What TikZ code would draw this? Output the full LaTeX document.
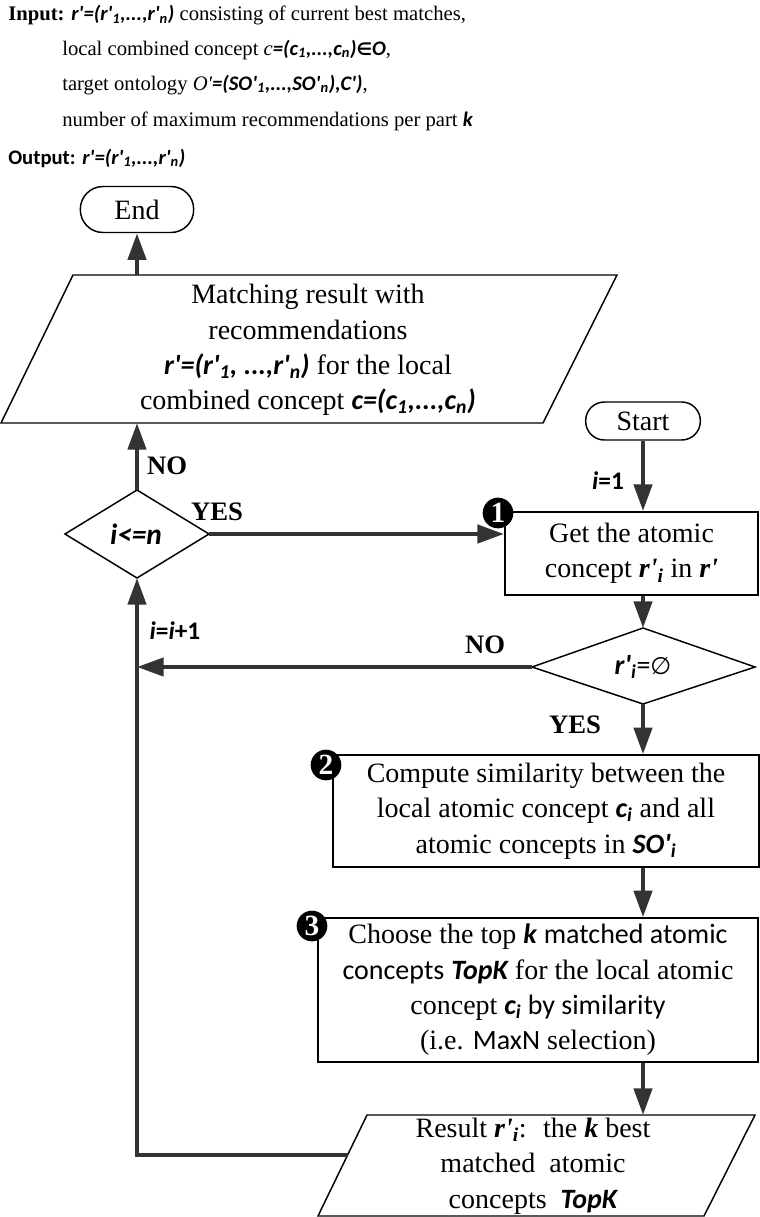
\documentclass[tikz,border=0pt]{standalone}
\usepackage{fontspec}
\setmainfont{Liberation Serif}
\newfontfamily\carl{Carlito}
\newfontfamily\lser{Liberation Serif}
\newfontfamily\dvs{DejaVu Sans}
\usetikzlibrary{arrows.meta}
\definecolor{arrowgray}{HTML}{333333}
\newcommand\bi[1]{{\carl\bfseries\itshape #1}}
\newcommand\tbi[1]{{\lser\bfseries\itshape #1}}
\newcommand\sub[1]{\textsubscript{#1}}
\begin{document}
\begin{tikzpicture}[x=0.75pt,y=-0.75pt,
  shapeline/.style={draw=black, line width=1.1pt},
  boxnode/.style={shapeline, rectangle, inner sep=0pt, align=center, font=\fontsize{21}{26.5}\selectfont},
  term/.style={shapeline, rectangle, inner sep=0pt, font=\fontsize{21}{24}\selectfont},
  txt/.style={font=\fontsize{21}{26.5}\selectfont, align=center, inner sep=0pt},
  head/.style={font=\fontsize{15.5}{20}\selectfont, anchor=base west, inner sep=0pt},
  lbl/.style={font=\fontsize{20}{24}\selectfont\bfseries, inner sep=0pt},
  ilbl/.style={font=\fontsize{19}{22}\selectfont, inner sep=0pt},
  arr/.style={draw=arrowgray, line width=3.3pt, -{Triangle[length=20pt,width=13.5pt]}},
  badge/.style={circle, fill=black, inner sep=0pt, minimum size=23pt, text=white, font=\fontsize{22}{22}\selectfont\bfseries}]
\useasboundingbox (0,0) rectangle (760,1217);

% ---------- header ----------
\node[head] (in1) at (8,21) {\textbf{Input:} \bi{r'=(r'\sub{1},...,r'\sub{n})} consisting of current best matches,};
\node[head] (in2) at (62,55) {local combined concept \textit{c}\bi{=(c\sub{1},...,c\sub{n})}{\dvs\bfseries\fontsize{13}{16}\selectfont ∈}\bi{O},};
\node[head] (in3) at (62,90) {target ontology {\lser\itshape O'}\bi{=(SO'\sub{1},...,SO'\sub{n}),C')},};
\node[head] (in4) at (62,126) {number of maximum recommendations per part \bi{k}};
\node[head] (in5) at (8,164) {{\carl\bfseries Output:} \bi{r'=(r'\sub{1},...,r'\sub{n})}};

% ---------- terminals ----------
\node[term, minimum width=85pt, minimum height=34.5pt, rounded corners=17pt] (end) at (137,209.5) {End};
\node[term, minimum width=86pt, minimum height=28.5pt, rounded corners=14pt] (start) at (643,421) {Start};

% ---------- top parallelogram ----------
\coordinate (p1tl) at (73,275);
\coordinate (p1tr) at (617,275);
\coordinate (p1br) at (543,423);
\coordinate (p1bl) at (1,423);
\draw[shapeline] (p1tl) -- (p1tr) -- (p1br) -- (p1bl) -- cycle;
\node[txt] (res) at (308,350) {Matching result with\\recommendations\\\bi{r'=(r'\sub{1}, ...,r'\sub{n})} for the local\\combined concept \bi{c=(c\sub{1},...,c\sub{n})}};
\coordinate (p1top) at (137,275);
\coordinate (p1bot) at (137,423);

% ---------- diamond 1 ----------
\coordinate (d1l) at (65,534);
\coordinate (d1t) at (137,490);
\coordinate (d1r) at (209,534);
\coordinate (d1b) at (137,578);
\draw[shapeline] (d1l) -- (d1t) -- (d1r) -- (d1b) -- cycle;
\node[inner sep=0pt, font=\fontsize{22}{24}\selectfont] (cond1) at (136,534) {\bi{i<=n}};

% ---------- box 1 ----------
\node[boxnode, line width=1.4pt, minimum width=189.75pt, minimum height=62.25pt] (box1) at (631.5,553.5) {Get the atomic\\concept \tbi{r'\sub{i}} in \tbi{r'}};

% ---------- diamond 2 ----------
\coordinate (d2l) at (532,667);
\coordinate (d2t) at (643,628);
\coordinate (d2r) at (755,667);
\coordinate (d2b) at (643,704);
\draw[shapeline] (d2l) -- (d2t) -- (d2r) -- (d2b) -- cycle;
\node[inner sep=0pt, font=\fontsize{21}{24}\selectfont] (cond2) at (643,667) {\bi{r'\sub{i}}{\carl =}{\dvs\fontsize{18}{20}\selectfont ∅}};

% ---------- box 2 ----------
\node[boxnode, minimum width=319.5pt, minimum height=84pt] (box2) at (546,811) {Compute similarity between the\\local atomic concept \bi{c\sub{i}} and all\\atomic concepts in \bi{SO'\sub{i}}};

% ---------- box 3 ----------
\node[boxnode, minimum width=330pt, minimum height=108pt] (box3) at (538,990) {Choose the top \bi{k} {\carl matched atomic}\\{\carl concepts} \bi{TopK} for the local atomic\\concept \bi{c\sub{i}}{\carl\ by similarity}\\(i.e. {\carl MaxN} selection)};

% ---------- bottom parallelogram ----------
\coordinate (p2tl) at (367,1115);
\coordinate (p2tr) at (755,1115);
\coordinate (p2br) at (704,1216);
\coordinate (p2bl) at (318,1216);
\draw[shapeline] (p2tl) -- (p2tr) -- (p2br) -- (p2bl) -- cycle;
\node[txt] (topk) at (533,1166) {Result \tbi{r'\sub{i}}:~ the \tbi{k} best\\matched~ atomic\\concepts~ \bi{TopK}};
\coordinate (p2top) at (643,1115);
\coordinate (p2left) at (347.6,1155);

% ---------- badges ----------
\node[badge] (b1) at (498,513) {1};
\node[badge] (b2) at (326,765) {2};
\node[badge] (b3) at (312,926) {3};

% ---------- connectors ----------
\draw[arr] (start.south) -- (start.south |- box1.north);
\draw[arr] (box1.south -| d2t) -- (d2t);
\draw[arr] (d2b) -- (d2b |- box2.north);
\draw[arr] (box2.south -| d2b) -- (box3.north -| d2b);
\draw[arr] (box3.south -| p2top) -- (p2top);
\draw[arr] (p2left) -| (d1b);
\draw[arr] (d2l) -- (d2l -| d1b);
\draw[arr] (d1t) -- (p1bot);
\draw[arr] (p1top) -- (end.south);
\draw[arr] (d1r) -- (d1r -| box1.west);

% ---------- labels ----------
\node[lbl] (no1) at (167,466) {NO};
\node[lbl] (yes1) at (217,512) {YES};
\node[ilbl] (inc) at (175,631) {\bi{i}{\carl\bfseries =}\bi{i}{\carl\bfseries +1}};
\node[lbl] (no2) at (485,645) {NO};
\node[lbl] (yes2) at (575,725) {YES};
\node[ilbl] (init) at (608,481) {\bi{i}{\carl\bfseries =1}};
\end{tikzpicture}
\end{document}
